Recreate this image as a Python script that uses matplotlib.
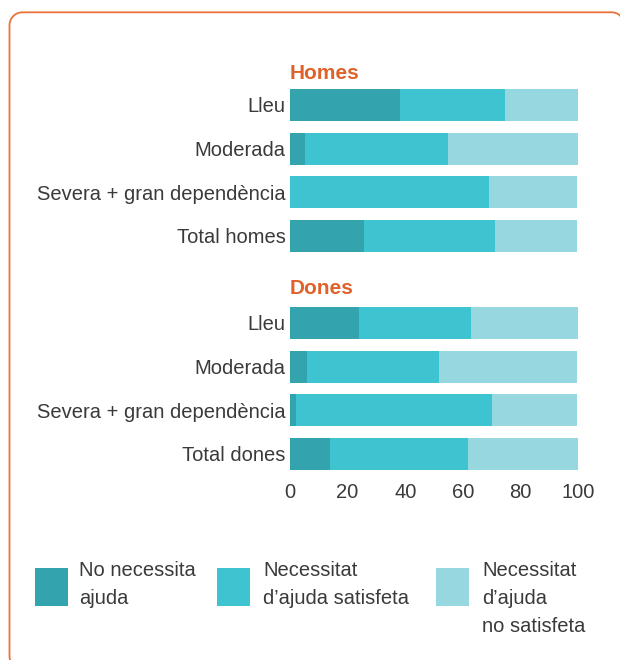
import numpy as np
import matplotlib.pyplot as plt
from matplotlib.patches import PathPatch, Rectangle
from matplotlib.path import Path

plt.rcParams['font.family'] = ['Liberation Sans', 'DejaVu Sans']

# Data (% of people)
groups = ["Homes", "Dones"]
rows_homes = ["Lleu", "Moderada", "Severa + gran dependència", "Total homes"]
rows_dones = ["Lleu", "Moderada", "Severa + gran dependència", "Total dones"]

no_ajuda_homes = [38.2, 5.2, 0.0, 25.7]
satisfeta_homes = [36.5, 49.7, 69.1, 45.5]
no_satisfeta_homes = [25.3, 45.1, 30.6, 28.5]

no_ajuda_dones = [24.0, 5.9, 2.1, 13.9]
satisfeta_dones = [38.8, 45.8, 68.0, 47.9]
no_satisfeta_dones = [37.2, 48.0, 29.6, 38.2]

legend_labels = ["No necessita\najuda", "Necessitat\nd\u2019ajuda satisfeta", "Necessitat\nd\u2019ajuda\nno satisfeta"]
xticks = [0, 20, 40, 60, 80, 100]

colors = ["#33A3AE", "#3EC3D0", "#97D7DF"]
orange = "#E8743B"
title_orange = "#E0622A"
txt = "#3a3a3a"

W, H = 620, 660
fig = plt.figure(figsize=(W / 100, H / 100), dpi=100)


def arc(cx, cy, r, a0, a1, n=20):
    t = np.radians(np.linspace(a0, a1, n))
    return np.column_stack([cx + r * np.cos(t), cy - r * np.sin(t)])


# rounded frame in pixel units (y down), runs off right and bottom edges
left, top, r = 9.5, 12.3, 13
pts = np.vstack([
    arc(611.7, top + 12, 12, 0, 90),            # top-right corner
    arc(left + r, top + r, r, 90, 180),        # top-left corner
    arc(left + r, 656, r, 180, 270),           # bottom-left corner
])
verts = np.column_stack([pts[:, 0] / W, 1 - pts[:, 1] / H])
frame = PathPatch(Path(verts), transform=fig.transFigure, fill=False,
                  edgecolor=orange, linewidth=1.3)
fig.patches.append(frame)

# axes: x 0..100 -> px 290..578, y rows spaced 43.6 px
row_px = 43.6
y_top, y_bot = -1.0, 8.5
top_px = 105 + y_top * row_px
bot_px = 105 + y_bot * row_px
ax = fig.add_axes([290 / W, 1 - bot_px / H, 288 / W, (bot_px - top_px) / H])

pos_h = np.arange(4)
pos_d = np.arange(4) + 5
pos = np.concatenate([pos_h, pos_d])
labels = rows_homes + rows_dones
s1 = np.array(no_ajuda_homes + no_ajuda_dones)
s2 = np.array(satisfeta_homes + satisfeta_dones)
s3 = np.array(no_satisfeta_homes + no_satisfeta_dones)

bh = 0.73
ax.barh(pos, s1, height=bh, color=colors[0], linewidth=0)
ax.barh(pos, s2, left=s1, height=bh, color=colors[1], linewidth=0)
ax.barh(pos, s3, left=s1 + s2, height=bh, color=colors[2], linewidth=0)

ax.set_xlim(0, 100)
ax.set_ylim(y_bot, y_top)
ax.set_yticks(pos)
ax.set_yticklabels(labels)
ax.set_xticks(xticks)
ax.tick_params(axis="both", length=0, labelsize=14.5, labelcolor=txt)
ax.tick_params(axis="y", pad=3)
ax.tick_params(axis="x", pad=5)
for sp in ax.spines.values():
    sp.set_visible(False)

ax.text(0, -0.73, groups[0], color=title_orange, fontsize=15, fontweight="bold", va="center", ha="left")
ax.text(0, 4.2, groups[1], color=title_orange, fontsize=15, fontweight="bold", va="center", ha="left")

# legend
sq_x = [35, 217, 436]
tx_x = [79, 263, 482]
for i in range(3):
    fig.patches.append(Rectangle((sq_x[i] / W, 1 - 606 / H), 33 / W, 38 / H,
                                 transform=fig.transFigure, color=colors[i], linewidth=0))
    fig.text(tx_x[i] / W, 1 - 561 / H, legend_labels[i], fontsize=14.5, color=txt,
             ha="left", va="top", linespacing=1.6)

fig.savefig("out.png", dpi=100)
